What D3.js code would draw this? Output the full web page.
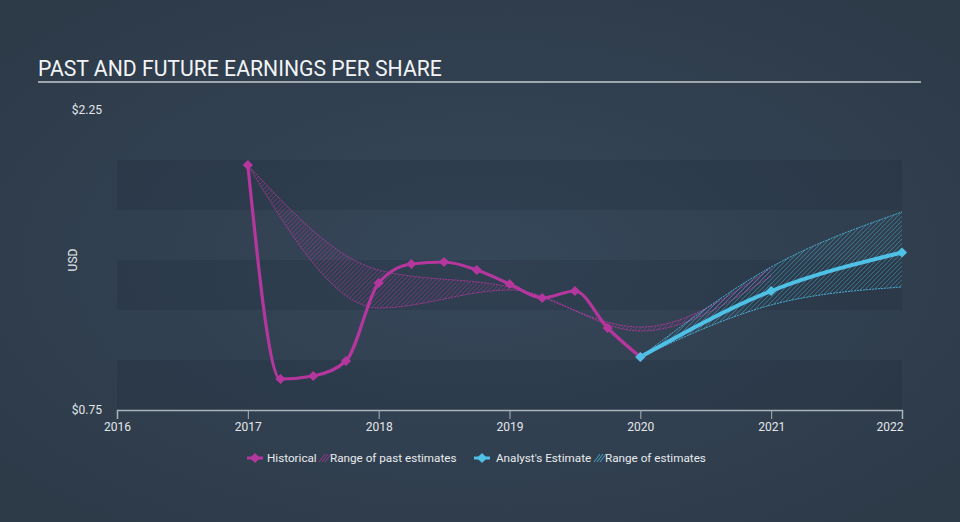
<!DOCTYPE html>
<html>
<head>
<meta charset="utf-8">
<script src="https://cdn.jsdelivr.net/npm/d3@7"></script>
<style>
  html, body { margin: 0; padding: 0; background: #313f4f; }
  svg { display: block; font-family: Roboto, "Noto Sans", sans-serif; }
</style>
</head>
<body>
<svg id="chart" width="960" height="522"></svg>
<script>
// ---- data ----
const title = "PAST AND FUTURE EARNINGS PER SHARE";
const yAxisLabel = "USD";
const yTickValues = [0.75, 2.25];
const yTickLabels = ["$0.75", "$2.25"];
const xTickValues = [2016, 2017, 2018, 2019, 2020, 2021, 2022];

const histDates = [2017.0, 2017.25, 2017.5, 2017.75, 2018.0, 2018.25, 2018.5, 2018.75, 2019.0, 2019.25, 2019.5, 2019.75, 2020.0];
const histValues = [1.975, 0.905, 0.92, 0.995, 1.385, 1.48, 1.49, 1.45, 1.38, 1.31, 1.345, 1.16, 1.015];

const pastRangeDates = [2017, 2018, 2019, 2020, 2021];
const pastRangeHigh = [1.975, 1.45, 1.365, 1.165, 1.46];
const pastRangeLow  = [1.975, 1.26, 1.35, 1.145, 1.42];

const estDates = [2020, 2021, 2022];
const estValues = [1.015, 1.345, 1.5375];
const estHigh = [1.015, 1.465, 1.74];
const estLow  = [1.015, 1.275, 1.365];

const legendLabels = ["Historical", "Range of past estimates", "Analyst's Estimate", "Range of estimates"];

// ---- styling ----
const MAG = "#b5379e";
const BLUE = "#4fc0e6";

const svg = d3.select("#chart");
const W = 960, H = 522;

const defs = svg.append("defs");
const bg = defs.append("radialGradient").attr("id", "bg").attr("cx", "50%").attr("cy", "50%").attr("r", "65%");
bg.append("stop").attr("offset", "0%").attr("stop-color", "#36475a");
bg.append("stop").attr("offset", "100%").attr("stop-color", "#2d3a48");

function hatch(id, color, op) {
  const p = defs.append("pattern").attr("id", id).attr("width", 3.2).attr("height", 3.2)
    .attr("patternUnits", "userSpaceOnUse").attr("patternTransform", "rotate(45)");
  p.append("line").attr("x1", 0).attr("y1", 0).attr("x2", 0).attr("y2", 3.2)
    .attr("stroke", color).attr("stroke-width", 1).attr("stroke-opacity", op);
}
hatch("hatchM", MAG, 0.75);
hatch("hatchB", BLUE, 0.7);

svg.append("rect").attr("width", W).attr("height", H).attr("fill", "url(#bg)");

// title
svg.append("text").attr("x", 38).attr("y", 76).attr("fill", "#f2f4f6")
  .attr("font-size", 21.2).text(title);
svg.append("line").attr("x1", 38).attr("x2", 921).attr("y1", 82).attr("y2", 82)
  .attr("stroke", "#c5cace").attr("stroke-width", 1.5);

// scales
const x = d3.scaleLinear().domain([2016, 2022]).range([117, 902]);
const y = d3.scaleLinear().domain([0.75, 2.25]).range([410, 110]);

// bands
const bandEdges = d3.range(0.75, 2.0, 0.25);
svg.append("g").selectAll("rect").data(bandEdges).join("rect")
  .attr("x", x(2016)).attr("width", x(2022) - x(2016))
  .attr("y", d => y(d + 0.25)).attr("height", d => y(d) - y(d + 0.25))
  .attr("fill", (d, i) => i % 2 === 0 ? "rgba(20,30,42,0.16)" : "rgba(255,255,255,0.0)");

// y labels
svg.append("g").selectAll("text").data(yTickValues).join("text")
  .attr("x", 102).attr("y", d => y(d)).attr("dy", "0.35em").attr("text-anchor", "end")
  .attr("fill", "#e4e7ea").attr("font-size", 12).text((d, i) => yTickLabels[i]);
svg.append("text").attr("transform", "translate(77,260) rotate(-90)").attr("text-anchor", "middle")
  .attr("fill", "#e4e7ea").attr("font-size", 12).text(yAxisLabel);

// x axis
const xAxis = svg.append("g").attr("transform", `translate(0,${y(0.75)})`)
  .call(d3.axisBottom(x).tickValues(xTickValues).tickFormat(d3.format("d")).tickSize(9).tickPadding(3));
xAxis.select(".domain").attr("stroke", "#aab2ba").attr("stroke-width", 1.5);
xAxis.selectAll(".tick line").attr("stroke", "#aab2ba");
xAxis.selectAll(".tick text").attr("fill", "#e4e7ea").attr("font-size", 12).attr("font-family", "Roboto, sans-serif");
xAxis.selectAll(".tick text").filter(d => d === 2022).attr("text-anchor", "end").attr("x", 1);

// areas
const pastRows = pastRangeDates.map((d, i) => ({ d, lo: pastRangeLow[i], hi: pastRangeHigh[i] }));
const estRows = estDates.map((d, i) => ({ d, lo: estLow[i], hi: estHigh[i] }));
const area = d3.area().x(r => x(r.d)).y0(r => y(r.lo)).y1(r => y(r.hi)).curve(d3.curveMonotoneX);
const edgeHi = d3.line().x(r => x(r.d)).y(r => y(r.hi)).curve(d3.curveMonotoneX);
const edgeLo = d3.line().x(r => x(r.d)).y(r => y(r.lo)).curve(d3.curveMonotoneX);

function drawRange(rows, pat, color) {
  svg.append("path").datum(rows).attr("d", area).attr("fill", `url(#${pat})`);
  [edgeHi, edgeLo].forEach(g => svg.append("path").datum(rows).attr("d", g)
    .attr("fill", "none").attr("stroke", color).attr("stroke-width", 1)
    .attr("stroke-opacity", 0.85).attr("stroke-dasharray", "2,1"));
}
drawRange(pastRows, "hatchM", MAG);
drawRange(estRows, "hatchB", BLUE);

// lines
const histRows = histDates.map((d, i) => ({ d, v: histValues[i] }));
const estLine = estDates.map((d, i) => ({ d, v: estValues[i] }));
const line = d3.line().x(r => x(r.d)).y(r => y(r.v)).curve(d3.curveMonotoneX);

svg.append("path").datum(histRows).attr("d", line).attr("fill", "none")
  .attr("stroke", MAG).attr("stroke-width", 3.2).attr("stroke-linejoin", "round");
svg.append("path").datum(estLine).attr("d", line).attr("fill", "none")
  .attr("stroke", BLUE).attr("stroke-width", 4).attr("stroke-linejoin", "round");

const diamond = d3.symbol().type(d3.symbolSquare).size(52);
svg.append("g").selectAll("path").data(histRows).join("path")
  .attr("transform", r => `translate(${x(r.d)},${y(r.v)}) rotate(45)`).attr("d", diamond).attr("fill", MAG);
svg.append("g").selectAll("path").data(estLine).join("path")
  .attr("transform", r => `translate(${x(r.d)},${y(r.v)}) rotate(45)`).attr("d", diamond).attr("fill", BLUE);

// legend
const lg = svg.append("g").attr("transform", "translate(0,458)");
function legendMarker(cx, color) {
  lg.append("line").attr("x1", cx - 8).attr("x2", cx + 8).attr("y1", 0).attr("y2", 0)
    .attr("stroke", color).attr("stroke-width", 3);
  lg.append("path").attr("transform", `translate(${cx},0) rotate(45)`).attr("d", diamond).attr("fill", color);
}
function legendHatch(x0, color) {
  for (let k = 0; k < 3; k++) {
    lg.append("line").attr("x1", x0 + k * 3).attr("y1", 4).attr("x2", x0 + k * 3 + 6).attr("y2", -4)
      .attr("stroke", color).attr("stroke-width", 1).attr("stroke-opacity", 0.8);
  }
}
function legendText(x0, t) {
  lg.append("text").attr("x", x0).attr("y", 0).attr("dy", "0.35em").attr("fill", "#e8ebee")
    .attr("font-size", 11.7).text(t);
}
legendMarker(255, MAG);
legendText(267, legendLabels[0]);
legendHatch(319, MAG);
legendText(330, legendLabels[1]);
legendMarker(482, BLUE);
legendText(496, legendLabels[2]);
legendHatch(594, BLUE);
legendText(605, legendLabels[3]);
</script>
</body>
</html>
